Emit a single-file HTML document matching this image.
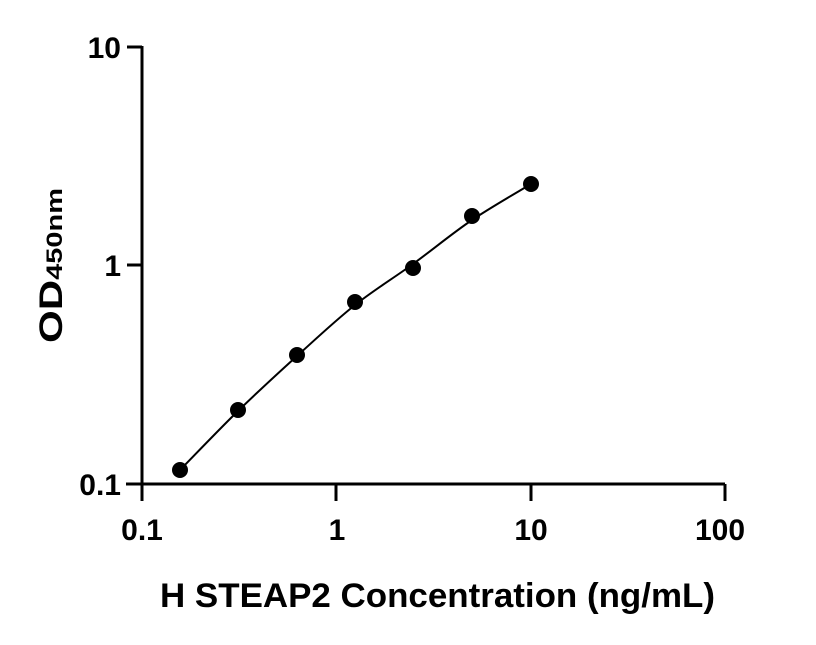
<!DOCTYPE html>
<html><head><meta charset="utf-8"><style>html,body{margin:0;padding:0;background:#fff;}</style></head>
<body>
<svg width="816" height="640" viewBox="0 0 816 640" xmlns="http://www.w3.org/2000/svg" font-family="Liberation Sans, sans-serif" font-weight="bold">
<g stroke="#000" stroke-width="3" fill="none">
<line x1="142" y1="46" x2="142" y2="485"/>
<line x1="126" y1="484" x2="725" y2="484"/>
<line x1="127" y1="47" x2="142" y2="47"/>
<line x1="127" y1="265" x2="142" y2="265"/>
<line x1="142" y1="484" x2="142" y2="501"/>
<line x1="336" y1="484" x2="336" y2="501"/>
<line x1="531" y1="484" x2="531" y2="501"/>
<line x1="725" y1="484" x2="725" y2="501"/>
</g>
<path d="M180,470 C189.7,460.2 218.5,430 238,411 C257.5,392 277.5,373.7 297,356 C316.5,338.3 335.7,320.3 355,305 C374.3,289.7 393.5,278.2 413,264 C432.5,249.8 452.3,233.3 472,220 C491.7,206.7 521.2,190 531,184" stroke="#000" stroke-width="2" fill="none"/>
<g fill="#000">
<circle cx="180" cy="470" r="8"/>
<circle cx="238" cy="410" r="8"/>
<circle cx="297" cy="355" r="8"/>
<circle cx="355" cy="302" r="8"/>
<circle cx="413" cy="268" r="8"/>
<circle cx="472" cy="216" r="8"/>
<circle cx="531" cy="184" r="8"/>
</g>
<g font-size="30" text-anchor="end" fill="#000">
<text x="121" y="58">10</text>
<text x="121" y="276">1</text>
<text x="121" y="495">0.1</text>
</g>
<g font-size="30" text-anchor="middle" fill="#000">
<text x="142" y="540">0.1</text>
<text x="337" y="540">1</text>
<text x="531" y="540">10</text>
<text x="720" y="540">100</text>
</g>
<text x="160" y="607" font-size="34" textLength="555" lengthAdjust="spacingAndGlyphs" fill="#000">H STEAP2 Concentration (ng/mL)</text>
<text transform="translate(62,343) rotate(-90)" font-size="32" fill="#000" textLength="155" lengthAdjust="spacingAndGlyphs">OD<tspan font-size="22">450nm</tspan></text>
</svg>
</body></html>
